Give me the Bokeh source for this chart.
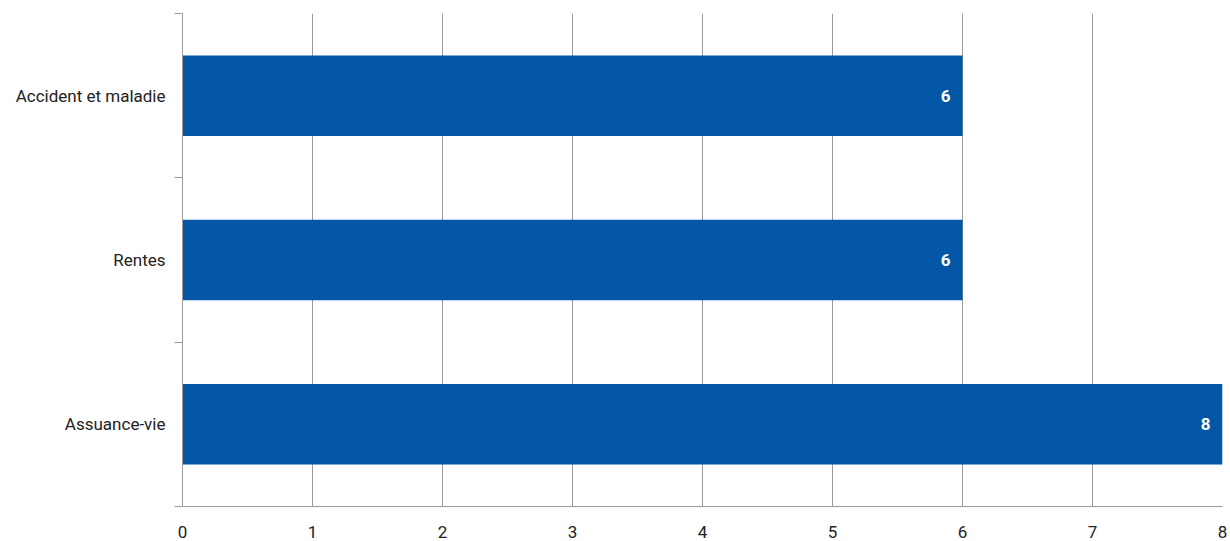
from bokeh.plotting import figure
from bokeh.models import ColumnDataSource, FixedTicker, Range1d, LabelSet
from bokeh.core.properties import value
from bokeh.embed import file_html
from bokeh.resources import INLINE

categories = ["Accident et maladie", "Rentes", "Assuance-vie"]
values = [6, 6, 8]
x_ticks = [0, 1, 2, 3, 4, 5, 6, 7, 8]

n = len(categories)
# numeric positions: top category first
ypos = [n - i - 0.5 for i in range(n)]

src = ColumnDataSource(dict(y=ypos, v=values, lab=[str(v) for v in values], cat=categories))

FONT = "Roboto"

p = figure(frame_width=1040, frame_height=493, output_backend="svg", toolbar_location=None,
           x_range=Range1d(0, 8), y_range=Range1d(0, n),
           min_border_left=182, min_border_top=13, min_border_right=8, min_border_bottom=35)
p.outline_line_color = None
p.background_fill_color = "white"

p.hbar(y="y", right="v", left=0, height=0.49, source=src, color="#0357A6", line_color=None)

labels = LabelSet(x="v", y="y", text="lab", source=src, x_offset=-12, y_offset=0,
                  text_align="right", text_baseline="middle", text_color="white",
                  text_font=value(FONT), text_font_style="bold", text_font_size="17px")
p.add_layout(labels)

# x axis
p.xaxis.ticker = FixedTicker(ticks=x_ticks)
p.xaxis.major_tick_line_color = None
p.xaxis.major_tick_out = 0
p.xaxis.minor_tick_line_color = None
p.xaxis.axis_line_color = "#9a9a9a"
p.xaxis.major_label_standoff = 19
p.xaxis.major_label_text_font = FONT
p.xaxis.major_label_text_font_size = "17px"
p.xaxis.major_label_text_color = "#222222"

# y axis
p.yaxis.ticker = FixedTicker(ticks=ypos, minor_ticks=list(range(n + 1)))
p.yaxis.major_label_overrides = {y: c for y, c in zip(ypos, categories)}
p.yaxis.major_tick_line_color = None
p.yaxis.major_tick_out = 0
p.yaxis.major_tick_in = 0
p.yaxis.minor_tick_out = 8
p.yaxis.minor_tick_in = 0
p.yaxis.minor_tick_line_color = "#9a9a9a"
p.yaxis.axis_line_color = "#9a9a9a"
p.yaxis.major_label_standoff = 9
p.yaxis.major_label_text_font = FONT
p.yaxis.major_label_text_font_size = "17px"
p.yaxis.major_label_text_color = "#222222"

p.xgrid.ticker = FixedTicker(ticks=x_ticks)
p.xgrid.grid_line_color = "#9a9a9a"
p.xgrid.grid_line_width = 1
p.ygrid.grid_line_color = None

open("out.html", "w").write(file_html(p, INLINE))
